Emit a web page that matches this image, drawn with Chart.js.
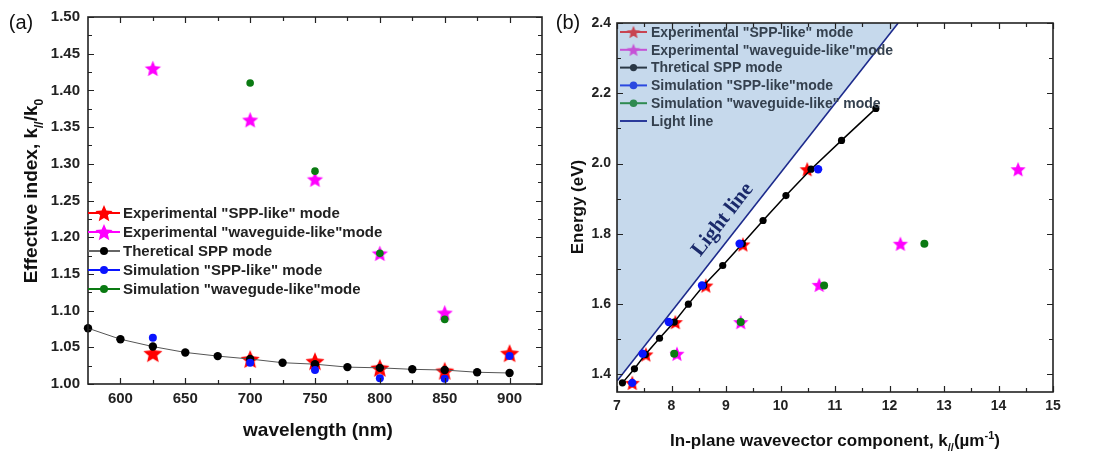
<!DOCTYPE html>
<html>
<head>
<meta charset="utf-8">
<script src="https://cdn.jsdelivr.net/npm/chart.js@4.4.0/dist/chart.umd.min.js"></script>
<style>
  html, body { margin: 0; padding: 0; background: #fff; }
  #wrap { position: relative; width: 1095px; height: 452px; }
  #chartA { position: absolute; left: 0; top: 0; }
  #chartB { position: absolute; left: 553px; top: 0; }
</style>
</head>
<body>
<div id="wrap">
  <canvas id="chartA" width="553" height="452"></canvas>
  <canvas id="chartB" width="542" height="452"></canvas>
</div>
<script>
// ---- panel (a): effective index vs wavelength ----
const wlTheory = [575, 600, 625, 650, 675, 700, 725, 750, 775, 800, 825, 850, 875, 900];
const neffTheory = [1.076, 1.061, 1.051, 1.043, 1.038, 1.034, 1.029, 1.027, 1.023, 1.022, 1.020, 1.019, 1.016, 1.015];
const wlExpSpp = [625, 700, 750, 800, 850, 900];
const neffExpSpp = [1.042, 1.034, 1.031, 1.022, 1.018, 1.042];
const wlExpWg = [625, 700, 750, 800, 850];
const neffExpWg = [1.430, 1.360, 1.279, 1.178, 1.097];
const wlSimSpp = [625, 700, 750, 800, 850, 900];
const neffSimSpp = [1.063, 1.029, 1.019, 1.008, 1.007, 1.038];
const wlSimWg = [700, 750, 800, 850];
const neffSimWg = [1.410, 1.290, 1.178, 1.088];

const xTicksA = [600, 650, 700, 750, 800, 850, 900];
const xMinorA = [625, 675, 725, 775, 825, 875];
const yTicksA = [1.00, 1.05, 1.10, 1.15, 1.20, 1.25, 1.30, 1.35, 1.40, 1.45, 1.50];
const yMinorA = [1.025, 1.075, 1.125, 1.175, 1.225, 1.275, 1.325, 1.375, 1.425, 1.475];

// ---- panel (b): energy vs in-plane wavevector ----
const kTheory = [7.10, 7.32, 7.52, 7.78, 8.05, 8.31, 8.59, 8.94, 9.30, 9.68, 10.10, 10.56, 11.12, 11.75];
const eTheory = [1.376, 1.416, 1.457, 1.503, 1.549, 1.600, 1.653, 1.710, 1.772, 1.838, 1.909, 1.984, 2.066, 2.157];
const kExpSpp = [7.28, 7.53, 8.07, 8.63, 9.31, 10.49];
const eExpSpp = [1.376, 1.457, 1.549, 1.653, 1.770, 1.984];
const kExpWg = [8.10, 9.27, 10.71, 12.20, 14.36];
const eExpWg = [1.459, 1.549, 1.655, 1.772, 1.984];
const kSimSpp = [7.28, 7.47, 7.95, 8.56, 9.25, 10.69];
const eSimSpp = [1.376, 1.459, 1.549, 1.653, 1.772, 1.984];
const kSimWg = [8.05, 9.27, 10.80, 12.64];
const eSimWg = [1.459, 1.549, 1.653, 1.772];
const kLight = [7.0, 12.16];
const eLight = [1.381, 2.4];

const xTicksB = [7, 8, 9, 10, 11, 12, 13, 14, 15];
const xMinorB = [7.5, 8.5, 9.5, 10.5, 11.5, 12.5, 13.5, 14.5];
const yTicksB = [1.4, 1.6, 1.8, 2.0, 2.2, 2.4];
const yMinorB = [1.5, 1.7, 1.9, 2.1, 2.3];

const SANS = '"Liberation Sans", Arial, sans-serif';
const pts = (xs, ys) => xs.map((x, i) => ({ x: x, y: ys[i] }));

function makeStar(R, fill) {
  const c = document.createElement('canvas');
  const s = Math.ceil(R * 2 + 2);
  c.width = s; c.height = s;
  const g = c.getContext('2d');
  g.translate(s / 2, s / 2 + R * 0.1);
  g.beginPath();
  for (let i = 0; i < 10; i++) {
    const r = i % 2 ? R * 0.45 : R;
    const a = -Math.PI / 2 + i * Math.PI / 5;
    g.lineTo(r * Math.cos(a), r * Math.sin(a));
  }
  g.closePath();
  g.fillStyle = fill;
  g.fill();
  return c;
}

function richText(ctx, parts, x, y, size, weight, angle, color) {
  ctx.save();
  ctx.translate(x, y);
  ctx.rotate(angle || 0);
  const f = (sz) => weight + ' ' + sz + 'px ' + SANS;
  let total = 0;
  const widths = parts.map(p => {
    ctx.font = f(p.s ? Math.round(size * 0.62) : size);
    const w = ctx.measureText(p.t).width;
    total += w;
    return w;
  });
  let cx = -total / 2;
  ctx.fillStyle = color || '#111';
  ctx.textBaseline = 'alphabetic';
  ctx.textAlign = 'left';
  parts.forEach((p, i) => {
    ctx.font = f(p.s ? Math.round(size * 0.62) : size);
    const dy = p.s === 'sub' ? size * 0.3 : p.s === 'sup' ? -size * 0.42 : 0;
    ctx.fillText(p.t, cx, size * 0.36 + dy);
    cx += widths[i];
  });
  ctx.restore();
}

// frame with inward ticks on all four sides
const boxTicks = {
  id: 'boxTicks',
  afterDraw(chart, args, o) {
    const { ctx, chartArea: a } = chart;
    const sx = chart.scales.x, sy = chart.scales.y;
    ctx.save();
    ctx.strokeStyle = '#222';
    ctx.lineWidth = 1.2;
    ctx.beginPath();
    const xt = (vals, len) => vals.forEach(v => {
      const p = Math.round(sx.getPixelForValue(v)) + 0.5;
      ctx.moveTo(p, a.bottom); ctx.lineTo(p, a.bottom - len);
      ctx.moveTo(p, a.top); ctx.lineTo(p, a.top + len);
    });
    const yt = (vals, len) => vals.forEach(v => {
      const p = Math.round(sy.getPixelForValue(v)) + 0.5;
      ctx.moveTo(a.left, p); ctx.lineTo(a.left + len, p);
      ctx.moveTo(a.right, p); ctx.lineTo(a.right - len, p);
    });
    xt(o.xMajor, 6); xt(o.xMinor, 4);
    yt(o.yMajor, 6); yt(o.yMinor, 4);
    ctx.stroke();
    ctx.lineWidth = 1.6;
    ctx.strokeRect(a.left, a.top, a.right - a.left, a.bottom - a.top);
    ctx.restore();
  }
};

const panelLegend = {
  id: 'panelLegend',
  afterDraw(chart, args, o) {
    const ctx = chart.ctx;
    ctx.save();
    ctx.font = o.font;
    ctx.textBaseline = 'middle';
    ctx.textAlign = 'left';
    o.items.forEach((it, i) => {
      const y = o.y0 + i * o.dy;
      ctx.strokeStyle = it.line;
      ctx.lineWidth = o.lw;
      ctx.beginPath(); ctx.moveTo(o.x0, y); ctx.lineTo(o.x1, y); ctx.stroke();
      const mx = (o.x0 + o.x1) / 2;
      if (it.star) {
        ctx.drawImage(it.star, mx - it.star.width / 2, y - it.star.height / 2);
      } else if (it.dot) {
        ctx.fillStyle = it.dot;
        ctx.beginPath(); ctx.arc(mx, y, it.r, 0, Math.PI * 2); ctx.fill();
      }
      ctx.fillStyle = o.color;
      ctx.fillText(it.label, o.tx, y + 1);
    });
    ctx.restore();
  }
};

const axisTitles = {
  id: 'axisTitles',
  afterDraw(chart, args, o) {
    const ctx = chart.ctx;
    richText(ctx, o.x.parts, o.x.cx, o.x.cy, o.x.size, 'bold', 0, '#111');
    richText(ctx, o.y.parts, o.y.cx, o.y.cy, o.y.size, 'bold', -Math.PI / 2, '#111');
    ctx.save();
    ctx.font = '20px ' + SANS;
    ctx.fillStyle = '#111';
    ctx.textAlign = 'center';
    ctx.textBaseline = 'middle';
    ctx.fillText(o.panel.t, o.panel.x, o.panel.y);
    ctx.restore();
  }
};

const lightLabel = {
  id: 'lightLabel',
  afterDatasetsDraw(chart, args, o) {
    const { ctx } = chart;
    const sx = chart.scales.x, sy = chart.scales.y;
    const ang = Math.atan2(sy.getPixelForValue(eLight[1]) - sy.getPixelForValue(eLight[0]),
                           sx.getPixelForValue(kLight[1]) - sx.getPixelForValue(kLight[0]));
    ctx.save();
    ctx.translate(sx.getPixelForValue(o.k), sy.getPixelForValue(o.e));
    ctx.rotate(ang);
    ctx.font = 'bold 21px "Liberation Serif", "Times New Roman", serif';
    ctx.fillStyle = '#1b2a6b';
    ctx.textAlign = 'center';
    ctx.textBaseline = 'middle';
    ctx.fillText(o.text, 0, 0);
    ctx.restore();
  }
};

const tickFontA = { family: SANS, size: 15, weight: 'bold' };
const tickFontB = { family: SANS, size: 14, weight: 'bold' };

// ---------- chart (a) ----------
const starRedA = makeStar(10, '#ff0000');
const starMagA = makeStar(8.5, '#ff00ff');

new Chart(document.getElementById('chartA'), {
  type: 'scatter',
  data: {
    datasets: [
      { data: pts(wlExpSpp, neffExpSpp), pointStyle: starRedA, pointRadius: 10, order: 5, clip: false },
      { data: pts(wlExpWg, neffExpWg), pointStyle: starMagA, pointRadius: 9, order: 4, clip: false },
      { data: pts(wlTheory, neffTheory), showLine: true, borderColor: '#555', borderWidth: 1,
        pointBackgroundColor: '#000', pointBorderWidth: 0, pointRadius: 4.2, order: 3, clip: false },
      { data: pts(wlSimSpp, neffSimSpp), pointBackgroundColor: '#0a14ff', pointBorderWidth: 0, pointRadius: 4, order: 2, clip: false },
      { data: pts(wlSimWg, neffSimWg), pointBackgroundColor: '#0a7a12', pointBorderWidth: 0, pointRadius: 3.8, order: 1, clip: false }
    ]
  },
  options: {
    responsive: false,
    animation: false,
    events: [],
    layout: { padding: { left: 0, top: 15, right: 4, bottom: 0 } },
    scales: {
      x: {
        type: 'linear', min: 575, max: 925,
        afterFit: s => { s.height = 68; },
        afterBuildTicks: s => { s.ticks = xTicksA.map(v => ({ value: v })); },
        grid: { display: false, drawTicks: false },
        border: { display: false },
        ticks: { padding: 6, font: tickFontA, color: '#222', maxRotation: 0, callback: v => String(v) }
      },
      y: {
        type: 'linear', min: 1.0, max: 1.5,
        afterFit: s => { s.width = 88; },
        afterBuildTicks: s => { s.ticks = yTicksA.map(v => ({ value: v })); },
        grid: { display: false, drawTicks: false },
        border: { display: false },
        ticks: { padding: 8, font: tickFontA, color: '#222', callback: v => v.toFixed(2) }
      }
    },
    plugins: {
      legend: { display: false },
      tooltip: { enabled: false },
      boxTicks: { xMajor: xTicksA, xMinor: xMinorA, yMajor: yTicksA, yMinor: yMinorA },
      panelLegend: {
        x0: 88, x1: 120, tx: 123, y0: 213, dy: 19, lw: 2,
        font: 'bold 15px ' + SANS, color: '#222',
        items: [
          { label: 'Experimental "SPP-like" mode', line: '#ff0000', star: makeStar(9, '#ff0000') },
          { label: 'Experimental "waveguide-like"mode', line: '#ff00ff', star: makeStar(9, '#ff00ff') },
          { label: 'Theretical SPP mode', line: '#666', dot: '#000', r: 4 },
          { label: 'Simulation "SPP-like" mode', line: '#0a14ff', dot: '#0a14ff', r: 4 },
          { label: 'Simulation "wavegude-like"mode', line: '#0a7a12', dot: '#0a7a12', r: 4 }
        ]
      },
      axisTitles: {
        x: { parts: [{ t: 'wavelength (nm)' }], cx: 318, cy: 429, size: 19 },
        y: { parts: [{ t: 'Effective index, k' }, { t: '//', s: 'sub' }, { t: '/k' }, { t: '0', s: 'sub' }], cx: 30, cy: 191, size: 19 },
        panel: { t: '(a)', x: 21, y: 23 }
      }
    }
  },
  plugins: [boxTicks, panelLegend, axisTitles]
});

// ---------- chart (b) ----------
const starRedB = makeStar(8, '#ff0000');
const starMagB = makeStar(8, '#ff00ff');

new Chart(document.getElementById('chartB'), {
  type: 'scatter',
  data: {
    datasets: [
      { data: pts(kLight, eLight), showLine: true, borderColor: '#1c2a8c', borderWidth: 1.6,
        pointRadius: 0, fill: 'end', backgroundColor: '#c6d9ec', order: 10 },
      { data: pts(kExpSpp, eExpSpp), pointStyle: starRedB, pointRadius: 8, order: 5, clip: false },
      { data: pts(kExpWg, eExpWg), pointStyle: starMagB, pointRadius: 8, order: 4, clip: false },
      { data: pts(kTheory, eTheory), showLine: true, borderColor: '#000', borderWidth: 1.5,
        pointBackgroundColor: '#000', pointBorderWidth: 0, pointRadius: 3.6, order: 3, clip: false },
      { data: pts(kSimSpp, eSimSpp), pointBackgroundColor: '#0a14ff', pointBorderWidth: 0, pointRadius: 4.2, order: 2, clip: false },
      { data: pts(kSimWg, eSimWg), pointBackgroundColor: '#0a7a12', pointBorderWidth: 0, pointRadius: 4, order: 1, clip: false }
    ]
  },
  options: {
    responsive: false,
    animation: false,
    events: [],
    layout: { padding: { left: 0, top: 23, right: 42, bottom: 0 } },
    scales: {
      x: {
        type: 'linear', min: 7, max: 15,
        afterFit: s => { s.height = 60; },
        afterBuildTicks: s => { s.ticks = xTicksB.map(v => ({ value: v })); },
        grid: { display: false, drawTicks: false },
        border: { display: false },
        ticks: { padding: 6, font: tickFontB, color: '#222', maxRotation: 0, callback: v => String(v) }
      },
      y: {
        type: 'linear', min: 1.35, max: 2.4,
        afterFit: s => { s.width = 64; },
        afterBuildTicks: s => { s.ticks = yTicksB.map(v => ({ value: v })); },
        grid: { display: false, drawTicks: false },
        border: { display: false },
        ticks: { padding: 6, font: tickFontB, color: '#222', callback: v => v.toFixed(1) }
      }
    },
    plugins: {
      legend: { display: false },
      tooltip: { enabled: false },
      boxTicks: { xMajor: xTicksB, xMinor: xMinorB, yMajor: yTicksB, yMinor: yMinorB },
      lightLabel: { k: 8.94, e: 1.84, text: 'Light line' },
      panelLegend: {
        x0: 67, x1: 94, tx: 98, y0: 32, dy: 17.8, lw: 2,
        font: 'bold 14px ' + SANS, color: '#34404e',
        items: [
          { label: 'Experimental "SPP-like" mode', line: '#c84452', star: makeStar(7, '#c84452') },
          { label: 'Experimental "waveguide-like"mode', line: '#c552d6', star: makeStar(7, '#c552d6') },
          { label: 'Thretical SPP mode', line: '#2a3846', dot: '#2a3846', r: 3.6 },
          { label: 'Simulation "SPP-like"mode', line: '#2a48e0', dot: '#2a48e0', r: 3.8 },
          { label: 'Simulation "waveguide-like" mode', line: '#2e8a50', dot: '#2e8a50', r: 3.8 },
          { label: 'Light line', line: '#2a3a9a' }
        ]
      },
      axisTitles: {
        x: { parts: [{ t: 'In-plane wavevector component, k' }, { t: '//', s: 'sub' }, { t: '(µm' }, { t: '-1', s: 'sup' }, { t: ')' }], cx: 282, cy: 440, size: 17 },
        y: { parts: [{ t: 'Energy (eV)' }], cx: 24, cy: 207, size: 17 },
        panel: { t: '(b)', x: 15, y: 23 }
      }
    }
  },
  plugins: [boxTicks, lightLabel, panelLegend, axisTitles]
});
</script>
</body>
</html>
